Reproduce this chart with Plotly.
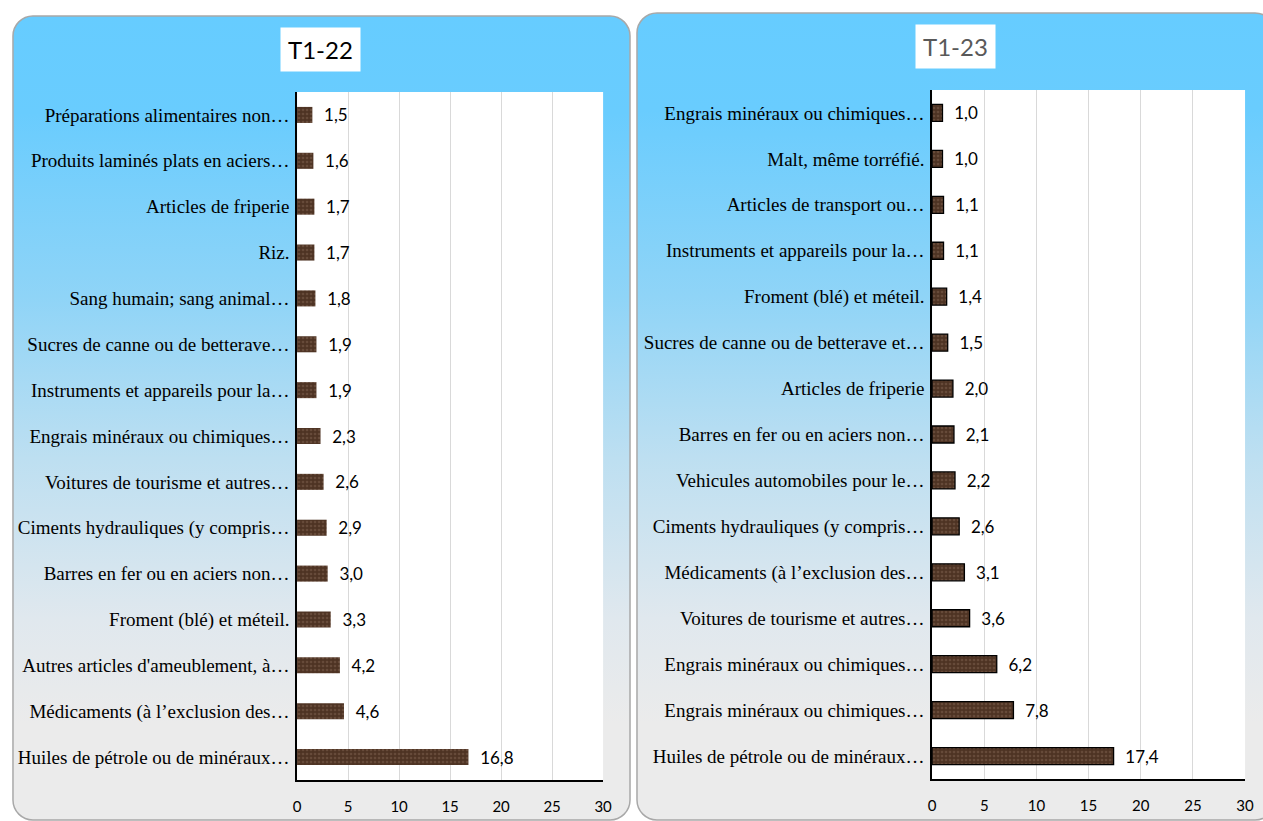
import base64

import plotly.graph_objects as go

# target picture size, and the css width the page is laid out at
# (the photographed window comes out ~0.7% narrower than css pixels)
W, H = 1263, 821
W_CSS = 1272

# T1-22 (top to bottom as shown)
labels_22 = [
    "Préparations alimentaires non…",
    "Produits laminés plats en aciers…",
    "Articles de friperie",
    "Riz.",
    "Sang humain; sang animal…",
    "Sucres de canne ou de betterave…",
    "Instruments et appareils pour la…",
    "Engrais minéraux ou chimiques…",
    "Voitures de tourisme et autres…",
    "Ciments hydrauliques (y compris…",
    "Barres en fer ou en aciers non…",
    "Froment (blé) et méteil.",
    "Autres articles d'ameublement, à…",
    "Médicaments (à l’exclusion des…",
    "Huiles de pétrole ou de minéraux…",
]
values_22 = [1.5, 1.6, 1.7, 1.7, 1.8, 1.9, 1.9, 2.3, 2.6, 2.9, 3.0, 3.3, 4.2, 4.6, 16.8]

# T1-23 (top to bottom as shown)
labels_23 = [
    "Engrais minéraux ou chimiques…",
    "Malt, même torréfié.",
    "Articles de transport ou…",
    "Instruments et appareils pour la…",
    "Froment (blé) et méteil.",
    "Sucres de canne ou de betterave et…",
    "Articles de friperie",
    "Barres en fer ou en aciers non…",
    "Vehicules automobiles pour le…",
    "Ciments hydrauliques (y compris…",
    "Médicaments (à l’exclusion des…",
    "Voitures de tourisme et autres…",
    "Engrais minéraux ou chimiques…",
    "Engrais minéraux ou chimiques…",
    "Huiles de pétrole ou de minéraux…",
]
values_23 = [1.0, 1.0, 1.1, 1.1, 1.4, 1.5, 2.0, 2.1, 2.2, 2.6, 3.1, 3.6, 6.2, 7.8, 17.4]

x_ticks = [0, 5, 10, 15, 20, 25, 30]


def px_x(x):
    return x / W


def px_y(y):
    return 1 - y / H


# background cards (rounded, blue -> grey gradient) as an svg image
svg = f"""<svg xmlns="http://www.w3.org/2000/svg" width="{W}" height="{H}" viewBox="0 0 {W} {H}" preserveAspectRatio="none">
<defs><linearGradient id="g" x1="0" y1="0" x2="0" y2="1">
<stop offset="0" stop-color="#66ccff"/>
<stop offset="0.12" stop-color="#69ccfe"/>
<stop offset="0.35" stop-color="#8fd4f7"/>
<stop offset="0.55" stop-color="#bddff1"/>
<stop offset="0.75" stop-color="#e0e8ee"/>
<stop offset="0.88" stop-color="#ebebeb"/>
<stop offset="1" stop-color="#ebebeb"/>
</linearGradient></defs>
<rect x="9" y="16" width="619" height="804" rx="20" ry="20" fill="url(#g)" stroke="#a8a8a8" stroke-width="1.5"/>
<rect x="635" y="13" width="640" height="807" rx="20" ry="20" fill="url(#g)" stroke="#a8a8a8" stroke-width="1.5"/>
</svg>"""
svg_uri = "data:image/svg+xml;base64," + base64.b64encode(svg.encode()).decode()

bar_pattern = dict(shape=".", size=4, solidity=0.35, fgcolor="#7f6352", fillmode="overlay")
label_font = dict(family="Liberation Serif", size=19, color="#000000")
num_font = dict(family="Lato", size=17, color="#000000")
tick_font = dict(family="Lato", size=15, color="#000000")

fig = go.Figure()
fig.add_trace(go.Bar(
    x=values_22, y=list(range(len(values_22))), orientation="h",
    xaxis="x", yaxis="y",
    marker=dict(color="#4e3323", pattern=bar_pattern, line=dict(width=0)),
    texttemplate="\u00a0\u00a0%{x:.1f}", textposition="outside", textfont=num_font,
    constraintext="none", cliponaxis=False, width=0.35, showlegend=False,
))
fig.add_trace(go.Bar(
    x=values_23, y=list(range(len(values_23))), orientation="h",
    xaxis="x2", yaxis="y2",
    marker=dict(color="#4e3323", pattern=bar_pattern, line=dict(width=1.3, color="#000000")),
    texttemplate="\u00a0\u00a0%{x:.1f}", textposition="outside", textfont=num_font,
    constraintext="none", cliponaxis=False, width=0.37, showlegend=False,
))

common_x = dict(range=[0, 30], tickvals=x_ticks, showgrid=True, gridcolor="#d9d9d9", gridwidth=1,
                showline=True, linecolor="#000000", linewidth=1.5, zeroline=False,
                ticks="outside", ticklen=12, tickcolor="rgba(0,0,0,0)", tickfont=tick_font,
                fixedrange=True)
common_y = dict(autorange="reversed", showgrid=False, zeroline=False, showline=True,
                linecolor="#000000", linewidth=1.5, ticks="", tickfont=label_font,
                ticklabelstandoff=2, fixedrange=True)

fig.update_layout(
    width=W_CSS, height=H,
    margin=dict(l=0, r=0, t=0, b=0),
    paper_bgcolor="#ffffff", plot_bgcolor="#ffffff",
    separators=", ",
    xaxis=dict(domain=[px_x(294), px_x(601)], anchor="y", **common_x),
    yaxis=dict(domain=[px_y(780), px_y(92)], anchor="x",
               tickvals=list(range(len(labels_22))), ticktext=labels_22, **common_y),
    xaxis2=dict(domain=[px_x(931), px_x(1245)], anchor="y2", **common_x),
    yaxis2=dict(domain=[px_y(779), px_y(90)], anchor="x2",
                tickvals=list(range(len(labels_23))), ticktext=labels_23, **common_y),
    images=[dict(source=svg_uri, xref="paper", yref="paper", x=0, y=1, sizex=1, sizey=1,
                 xanchor="left", yanchor="top", sizing="stretch", layer="below")],
    shapes=[
        dict(type="rect", xref="x domain", yref="y domain", x0=0, x1=1, y0=0, y1=1,
             fillcolor="#ffffff", line=dict(width=0), layer="below"),
        dict(type="rect", xref="x2 domain", yref="y2 domain", x0=0, x1=1, y0=0, y1=1,
             fillcolor="#ffffff", line=dict(width=0), layer="below"),
    ],
    annotations=[
        dict(text="T1-22", xref="paper", yref="paper", x=px_x(318), y=px_y(50),
             xanchor="center", yanchor="middle",
             showarrow=False, bgcolor="#ffffff", borderpad=7,
             font=dict(family="Lato", size=24, color="#000000")),
        dict(text="T1-23", xref="paper", yref="paper", x=px_x(955), y=px_y(47),
             xanchor="center", yanchor="middle",
             showarrow=False, bgcolor="#ffffff", borderpad=7,
             font=dict(family="Lato", size=24, color="#595959")),
    ],
)

# drop the default 8px page margin so the figure sits at the window origin
fig.write_html("out.html", config={"displayModeBar": False},
               post_script="document.body.style.margin='0';document.body.style.overflow='hidden';")
